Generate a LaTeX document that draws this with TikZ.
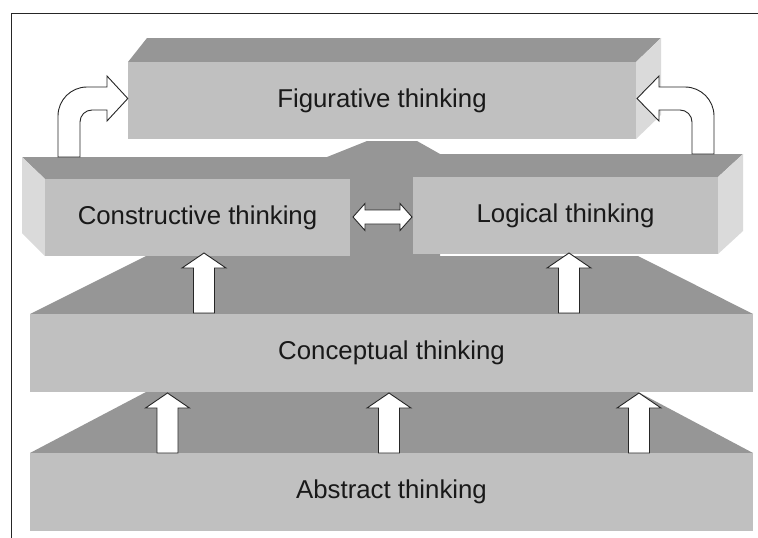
\documentclass[tikz,border=0pt]{standalone}
\usepackage{fontspec}
\setmainfont{Liberation Sans}
\definecolor{frontc}{RGB}{192,192,192}
\definecolor{topc}{RGB}{150,150,150}
\definecolor{sidec}{RGB}{218,218,218}
\definecolor{txtc}{RGB}{25,25,25}
\tikzset{
  front/.style={fill=frontc, inner sep=0pt, text=txtc, font=\fontsize{25.8}{30}\selectfont},
  topface/.style={fill=topc, draw=none},
  sideface/.style={fill=sidec, draw=none},
  blockarrow/.style={fill=white, draw=black!85, line width=0.9pt, line join=miter},
  frameline/.style={draw=black!85, line width=1pt}
}
% up block arrow: #1 centre x, #2 tip y, #3 base y
\newcommand\upblockarrow[3]{%
  \draw[blockarrow] (#1-10.5,#3) -- (#1-10.5,#2+15) -- (#1-22,#2+15) -- (#1,#2)
    -- (#1+22,#2+15) -- (#1+10.5,#2+15) -- (#1+10.5,#3) -- cycle;}
\begin{document}
\begin{tikzpicture}[x=1pt,y=-1pt]
\useasboundingbox (0,0) rectangle (758,538);
\fill[white] (0,0) rectangle (758,538);
% frame
\draw[frameline] (11,538) -- (11,13) -- (758,13);

% abstract layer
\fill[topc] (30,453) -- (146,392) -- (638,392) -- (753,453) -- cycle;
\node[front, minimum width=723pt, minimum height=78pt] (abs) at (391.5,492) {Abstract thinking};

% conceptual layer
\fill[topc] (30,314) -- (146,256) -- (638,256) -- (753,314) -- cycle;
\node[front, minimum width=723pt, minimum height=78pt] (conc) at (391.5,353) {Conceptual thinking};

% middle layer backdrop
\fill[topc] (327,157) -- (367,141) -- (417,141) -- (440,154) -- (440,257) -- (327,257) -- cycle;

% constructive block
\fill[topc] (22,157) -- (327,157) -- (350,179) -- (45,179) -- cycle;
\fill[sidec] (22,157) -- (45,179) -- (45,256) -- (22,233) -- cycle;
\node[front, minimum width=305pt, minimum height=77pt] (cons) at (197.5,217.5) {Constructive thinking};

% logical block
\fill[topc] (440,154) -- (743,154) -- (718,177) -- (413,177) -- cycle;
\fill[sidec] (743,154) -- (743,231) -- (718,254) -- (718,177) -- cycle;
\node[front, minimum width=305pt, minimum height=77pt] (logi) at (565.5,215.5) {Logical thinking};

% figurative block
\fill[topc] (128,62) -- (147,38) -- (661,38) -- (636,62) -- cycle;
\fill[sidec] (636,62) -- (661,38) -- (661,115) -- (636,139) -- cycle;
\node[front, minimum width=508pt, minimum height=77pt] (fig) at (382,100.5) {Figurative thinking};

% curved arrow: constructive -> figurative
\draw[blockarrow] (58,157) -- (58,116) arc[start angle=180, end angle=270, radius=29]
  -- (107,87) -- (107,76) -- (fig.west |- 0,98.5) -- (107,121) -- (107,110) -- (92,110)
  arc[start angle=270, end angle=180, radius=12] -- (80,157) -- cycle;

% curved arrow: logical -> figurative
\draw[blockarrow] (714,154) -- (714,116) arc[start angle=0, end angle=-90, radius=29]
  -- (659,87) -- (659,76) -- (637,98.5) -- (659,121) -- (659,110) -- (680,110)
  arc[start angle=-90, end angle=0, radius=12] -- (692,154) -- cycle;

% double arrow between constructive and logical
\draw[blockarrow] (353,217) -- (365,203.5) -- (365,210) -- (400,210) -- (400,203.5)
  -- (412,217) -- (400,230.5) -- (400,224) -- (365,224) -- (365,230.5) -- cycle;

% up arrows conceptual -> constructive / logical
\upblockarrow{204}{253}{313}
\upblockarrow{569}{253}{313}
% up arrows abstract -> conceptual
\upblockarrow{167.5}{393}{453}
\upblockarrow{389}{393}{453}
\upblockarrow{639}{393}{453}
\end{tikzpicture}
\end{document}
